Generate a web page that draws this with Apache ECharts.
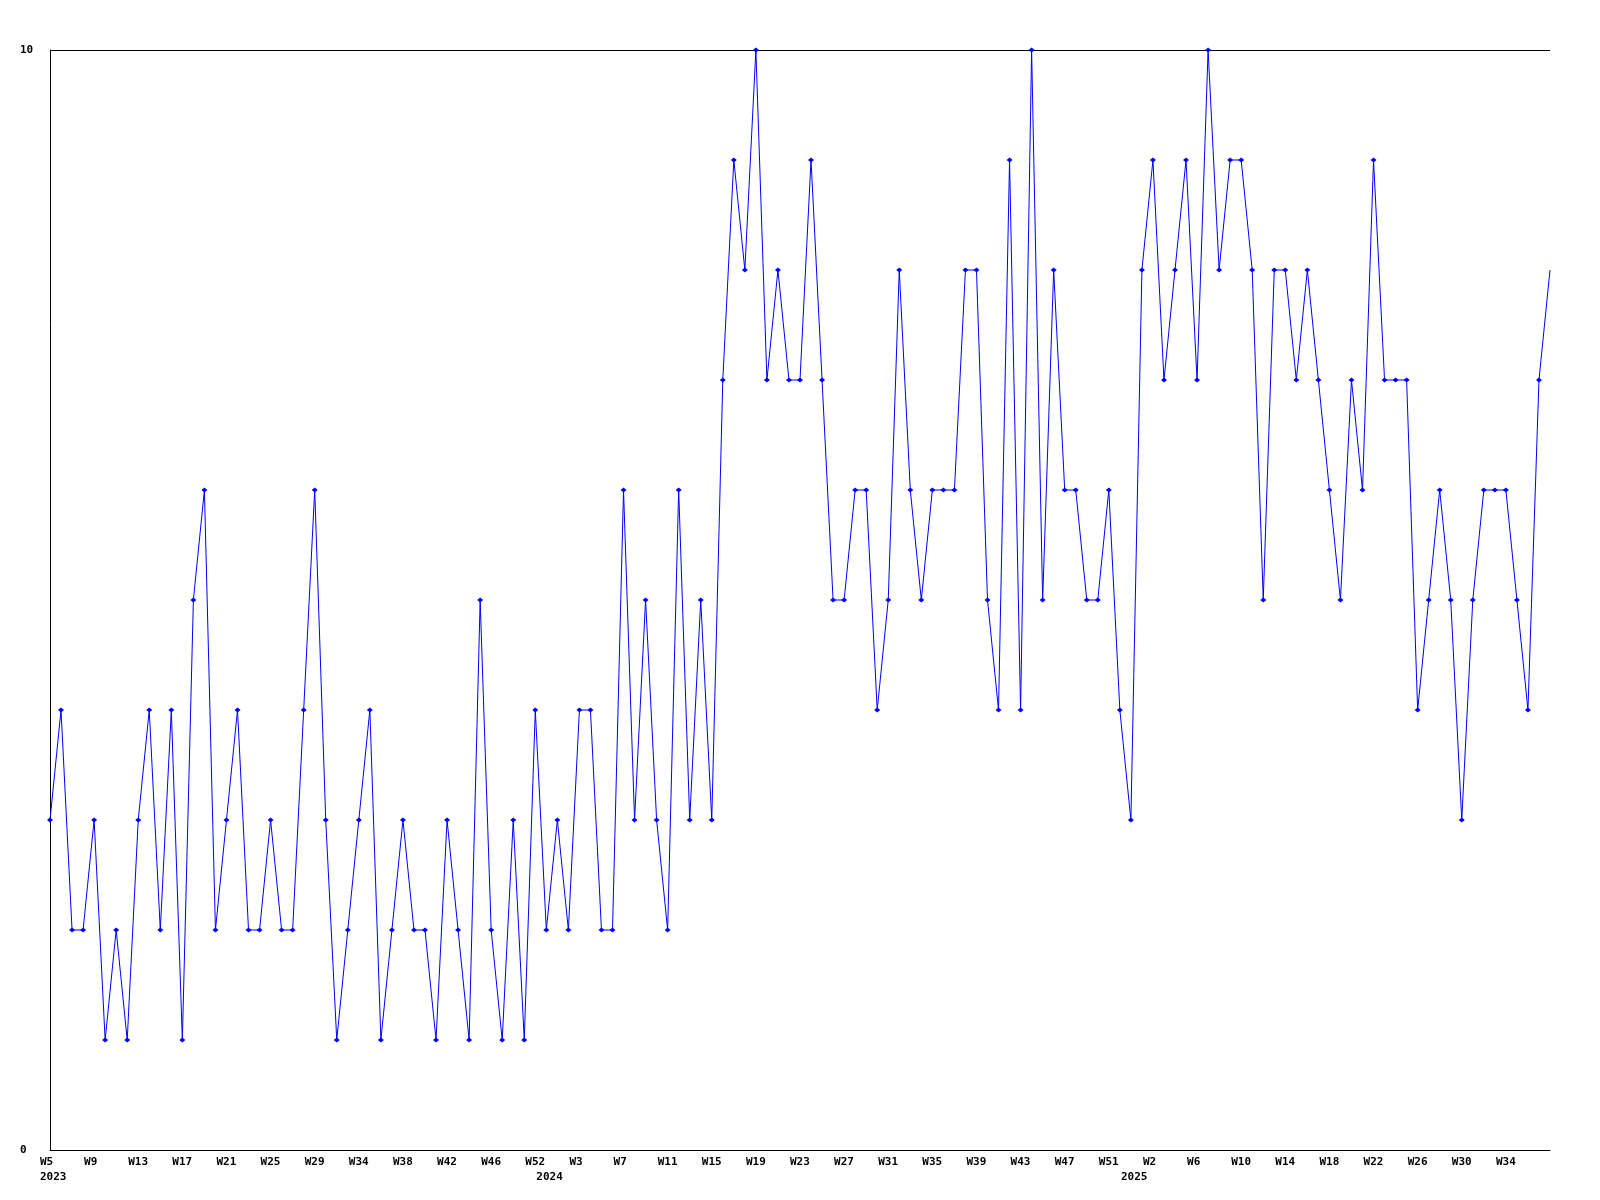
<!DOCTYPE html>
<html>
<head>
<meta charset="utf-8">
<script src="https://cdn.jsdelivr.net/npm/echarts@6/dist/echarts.min.js"></script>
<style>
html,body{margin:0;padding:0;background:#fff;}
#chart{width:1600px;height:1200px;}
</style>
</head>
<body>
<div id="chart"></div>
<script>
// Weekly values, 2023 W5 .. 2025 (137 points)
const values = [
  3,4,2,2,3,1,2,1,3,4,2,4,1,5,6,2,3,4,2,2,3,2,2,4,6,3,1,2,
  3,4,1,2,3,2,2,1,3,2,1,5,2,1,3,1,4,2,3,2,4,4,2,2,6,3,5,3,
  2,6,3,5,3,7,9,8,10,7,8,7,7,9,7,5,5,6,6,4,5,8,6,5,6,6,6,8,
  8,5,4,9,4,10,5,8,6,6,5,5,6,4,3,8,9,7,8,9,7,10,8,9,9,8,5,8,
  8,7,8,7,6,5,7,6,9,7,7,7,4,5,6,5,3,5,6,6,6,5,4,7,8
];
// x tick labels (every 4th point)
const tickLabels = [
  'W5','W9','W13','W17','W21','W25','W29','W34','W38','W42','W46','W52',
  'W3','W7','W11','W15','W19','W23','W27','W31','W35','W39','W43','W47','W51',
  'W2','W6','W10','W14','W18','W22','W26','W30','W34'
];
// year labels (second line), at these point indices
const yearPointIndex = [0, 45, 98];
const yearLabels = ['2023', '2024', '2025'];
const yTickLabels = ['0', '10'];

const FONT = 'DejaVu Sans Mono';
const chart = echarts.init(document.getElementById('chart'), null, {renderer: 'canvas'});

const seriesData = values.map((v, i) =>
  i === values.length - 1 ? {value: [i, v], symbol: 'none'} : [i, v]);

const richA = {
  a: {
    width: 20,
    align: 'left',
    fontFamily: FONT,
    fontWeight: 'bold',
    fontSize: 11,
    lineHeight: 15,
    color: '#000'
  }
};

chart.setOption({
  animation: false,
  backgroundColor: '#ffffff',
  grid: {left: 50, top: 50, width: 1500, height: 1100, containLabel: false},
  xAxis: [{
    type: 'value',
    min: 0,
    max: values.length - 1,
    interval: 4,
    axisLine: {show: true, lineStyle: {color: '#000', width: 1}},
    axisTick: {show: false},
    splitLine: {show: false},
    axisLabel: {
      show: true,
      margin: 5,
      align: 'center',
      formatter: function (val) {
        const k = Math.round(val / 4);
        if (k >= tickLabels.length) return '';
        return '{a|' + tickLabels[k] + '}';
      },
      rich: richA
    }
  }, {
    type: 'value',
    position: 'bottom',
    min: 0,
    max: values.length - 1,
    interval: 1,
    axisLine: {show: false},
    axisTick: {show: false},
    splitLine: {show: false},
    axisLabel: {
      show: true,
      margin: 20,
      align: 'center',
      hideOverlap: false,
      formatter: function (val) {
        const yi = yearPointIndex.indexOf(Math.round(val));
        return yi >= 0 ? '{a|' + yearLabels[yi] + '}' : '';
      },
      rich: richA
    }
  }],
  yAxis: {
    type: 'value',
    min: 0,
    max: 10,
    interval: 10,
    axisLine: {show: true, lineStyle: {color: '#000', width: 1}},
    axisTick: {show: false},
    splitLine: {show: true, lineStyle: {color: '#000', width: 1}},
    axisLabel: {
      show: true,
      margin: 30,
      align: 'left',
      fontFamily: FONT,
      fontWeight: 'bold',
      fontSize: 11,
      color: '#000',
      formatter: function (val) { return val === 0 ? yTickLabels[0] : (val === 10 ? yTickLabels[1] : ''); }
    }
  },
  series: [{
    type: 'line',
    xAxisIndex: 0,
    data: seriesData,
    symbol: 'diamond',
    symbolSize: [6, 5],
    showAllSymbol: true,
    lineStyle: {color: '#0000ff', width: 1},
    itemStyle: {color: '#0000ff'},
    emphasis: {disabled: true},
    clip: false
  }]
});
</script>
</body>
</html>
